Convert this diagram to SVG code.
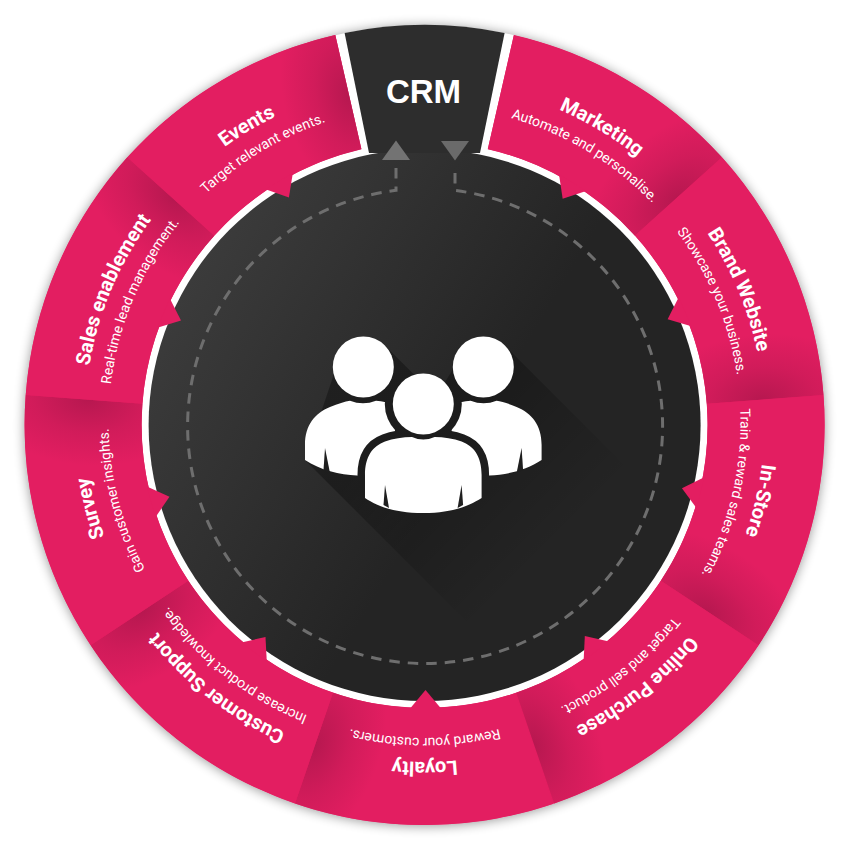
<svg xmlns="http://www.w3.org/2000/svg" width="850" height="850" viewBox="0 0 850 850">
<style>
.pink{fill:#e31e61}
.ttl{font-family:Roboto,"Liberation Sans",sans-serif;font-weight:700;font-size:20px;fill:#fff;text-anchor:middle}
.sub{font-family:Roboto,"Liberation Sans",sans-serif;font-weight:400;font-size:14px;fill:#fff;text-anchor:middle}
.man{fill:#fff}
.cut{fill:#1f1f1f}
</style>
<defs>
<filter id="soft" x="-10%" y="-10%" width="120%" height="120%"><feGaussianBlur stdDeviation="6"/></filter>
<linearGradient id="disc" gradientUnits="userSpaceOnUse" x1="170" y1="260" x2="470" y2="440"><stop offset="0" stop-color="#3d3d3d"/><stop offset="1" stop-color="#242424"/></linearGradient>
<linearGradient id="long" gradientUnits="userSpaceOnUse" x1="400" y1="420" x2="540" y2="560"><stop offset="0" stop-color="#000" stop-opacity=".32"/><stop offset="1" stop-color="#000" stop-opacity="0"/></linearGradient>
<radialGradient id="shade" gradientUnits="userSpaceOnUse" cx="0" cy="0" r="1" gradientTransform="translate(0 -338) scale(66 110)"><stop offset="0" stop-color="#7a0f38" stop-opacity=".42"/><stop offset=".5" stop-color="#7a0f38" stop-opacity=".17"/><stop offset="1" stop-color="#7a0f38" stop-opacity="0"/></radialGradient>
<path id="seg" d="M0,-400A400,400 0 0 0 -244.6,-316.5L-173.1,-223.9A283,283 0 0 1 0,-283Z"/>
<path id="segEnd" d="M0,-400A400,400 0 0 0 -230,-327.2L-162.7,-231.5A283,283 0 0 1 0,-283Z"/>
<polygon id="tip" points="0,-265 15.9,-284 -15.9,-284"/>
<path id="tArc" d="M-340,0A340,340 0 0 1 340,0"/>
<path id="sArc" d="M-316,0A316,316 0 0 1 316,0"/>
<clipPath id="inDisc"><circle cx="424.6" cy="425" r="276"/></clipPath>
<mask id="gap" maskUnits="userSpaceOnUse" x="280" y="320" width="290" height="220">
<rect x="280" y="320" width="290" height="220" fill="#fff"/>
<circle cx="423.3" cy="404" r="38.5" fill="#000"/>
<path fill="#000" stroke="#000" stroke-width="15" d="M365,498V475C365,456 373,446 385,441.5C393,438.5 403,437 412,437Q423.3,442 434.6,437C443.6,437 453.6,438.5 461.6,441.5C473.6,446 481.6,456 481.6,475V498C470,505 455,513 423.3,513C391,513 376,505 365,498Z"/>
</mask>
<g id="sideMan">
<path class="man" d="M305,460V445C305,425 315,413 330,407C338,403.5 345,401.5 350,400.7Q363,406 376,400.7C382,401 390,403 395,405V450L380,480L357,475.5C340,475 320,470 305,460Z"/>
<circle class="man" cx="363.3" cy="367" r="30.5"/>
<polygon class="cut" points="325,448 323.5,470 330,473"/>
</g>
</defs>
<rect width="850" height="850" fill="#fff"/>
<circle cx="424.6" cy="426" r="400" fill="#000" opacity=".42" filter="url(#soft)"/>
<circle cx="424.6" cy="425" r="400" fill="#fff"/>
<g id="crm">
<circle cx="424.6" cy="425" r="276" fill="url(#disc)"/>
<path d="M344.6,33A400,400 0 0 1 504.6,33L480,153H369Z" fill="#2d2d2d"/>
<polygon points="305,460 342,350 384.9,345.4 420,380.5 445,382 465,350 483,340 504.6,345.4 804.6,645.4 605,760" fill="url(#long)" clip-path="url(#inDisc)"/>
<text x="423.5" y="102.7" font-family="'Liberation Sans',Arial,sans-serif" font-weight="700" font-size="33" fill="#fff" text-anchor="middle">CRM</text>
</g>
<g id="nodes" transform="translate(424.6 425)">
<path class="pink" d="M89.3,-389.9A400,400 0 1 1 -89.3,-389.9L-63.2,-275.9A283,283 0 1 0 63.2,-275.9Z"/>
<g id="marketing">
<g transform="rotate(48)"><use href="#segEnd" class="pink"/><use href="#segEnd" fill="url(#shade)"/></g>
<use href="#tip" class="pink" transform="rotate(31.4)"/>
<g transform="translate(0 -3) rotate(31)"><text class="ttl"><textPath href="#tArc" startOffset="50%">Marketing</textPath></text><text class="sub"><textPath href="#sArc" startOffset="50%">Automate and personalise.</textPath></text></g>
</g>
<g id="brand-website">
<g transform="rotate(85.7)"><use href="#seg" class="pink"/><use href="#seg" fill="url(#shade)"/></g>
<use href="#tip" class="pink" transform="rotate(66.5)"/>
<g transform="translate(0 -3) rotate(67.2)"><text class="ttl"><textPath href="#tArc" startOffset="50%">Brand Website</textPath></text><text class="sub"><textPath href="#sArc" startOffset="50%">Showcase your business.</textPath></text></g>
</g>
<g id="in-store">
<g transform="rotate(123.4)"><use href="#seg" class="pink"/><use href="#seg" fill="url(#shade)"/></g>
<use href="#tip" class="pink" transform="rotate(103.8)"/>
<g transform="translate(0 -3) rotate(103.2)"><text class="ttl"><textPath href="#tArc" startOffset="50%">In-Store</textPath></text><text class="sub"><textPath href="#sArc" startOffset="50%">Train &amp; reward sales teams.</textPath></text></g>
</g>
<g id="online-purchase">
<g transform="rotate(161.1)"><use href="#seg" class="pink"/><use href="#seg" fill="url(#shade)"/></g>
<use href="#tip" class="pink" transform="rotate(142.8)"/>
<g transform="translate(0 -3) rotate(141.3)"><text class="ttl"><textPath href="#tArc" startOffset="50%">Online Purchase</textPath></text><text class="sub"><textPath href="#sArc" startOffset="50%">Target and sell product.</textPath></text></g>
</g>
<g id="loyalty">
<g transform="rotate(198.9)"><use href="#seg" class="pink"/><use href="#seg" fill="url(#shade)"/></g>
<use href="#tip" class="pink" transform="rotate(179.8)"/>
<g transform="translate(0 -3) rotate(180)"><text class="ttl"><textPath href="#tArc" startOffset="50%">Loyalty</textPath></text><text class="sub"><textPath href="#sArc" startOffset="50%">Reward your customers.</textPath></text></g>
</g>
<g id="customer-support">
<g transform="rotate(236.6)"><use href="#seg" class="pink"/><use href="#seg" fill="url(#shade)"/></g>
<use href="#tip" class="pink" transform="rotate(216.9)"/>
<g transform="translate(0 -3) rotate(218)"><text class="ttl"><textPath href="#tArc" startOffset="50%">Customer Support</textPath></text><text class="sub"><textPath href="#sArc" startOffset="50%">Increase product knowledge.</textPath></text></g>
</g>
<g id="survey">
<g transform="rotate(274.3)"><use href="#seg" class="pink"/><use href="#seg" fill="url(#shade)"/></g>
<use href="#tip" class="pink" transform="rotate(254.3)"/>
<g transform="translate(0 -3) rotate(255.5)"><text class="ttl"><textPath href="#tArc" startOffset="50%">Survey</textPath></text><text class="sub"><textPath href="#sArc" startOffset="50%">Gain customer insights.</textPath></text></g>
</g>
<g id="sales-enablement">
<g transform="rotate(312)"><use href="#seg" class="pink"/><use href="#seg" fill="url(#shade)"/></g>
<use href="#tip" class="pink" transform="rotate(293.2)"/>
<g transform="translate(0 -3) rotate(293)"><text class="ttl"><textPath href="#tArc" startOffset="50%">Sales enablement</textPath></text><text class="sub"><textPath href="#sArc" startOffset="50%">Real-time lead management.</textPath></text></g>
</g>
<g id="events">
<g transform="rotate(347.1)"><use href="#segEnd" class="pink"/><use href="#segEnd" fill="url(#shade)"/></g>
<use href="#tip" class="pink" transform="rotate(329.2)"/>
<g transform="translate(0 -3) rotate(329)"><text class="ttl"><textPath href="#tArc" startOffset="50%">Events</textPath></text><text class="sub"><textPath href="#sArc" startOffset="50%">Target relevant events.</textPath></text></g>
</g>
</g>
<g id="connectors">
<path d="M396,168V190.3A237.5,237.5 0 1 0 455,190.4V168" fill="none" stroke="#6e6e6e" stroke-width="3" stroke-dasharray="10.5 8"/>
<polygon points="396,140.5 410,160 382,160" fill="#737373"/>
<polygon points="441,141 469,141 455,160.5" fill="#6a6a6a"/>
</g>
<g id="people">
<g mask="url(#gap)">
<use href="#sideMan"/>
<use href="#sideMan" transform="translate(846.6 0) scale(-1 1)"/>
</g>
<path class="man" d="M365,498V475C365,456 373,446 385,441.5C393,438.5 403,437 412,437Q423.3,442 434.6,437C443.6,437 453.6,438.5 461.6,441.5C473.6,446 481.6,456 481.6,475V498C470,505 455,513 423.3,513C391,513 376,505 365,498Z"/>
<circle class="man" cx="423.3" cy="404" r="30.5"/>
<polygon class="cut" points="385,485 383.5,505 389,508"/>
<polygon class="cut" points="461.6,485 463.1,505 457.6,508"/>
</g>
</svg>
